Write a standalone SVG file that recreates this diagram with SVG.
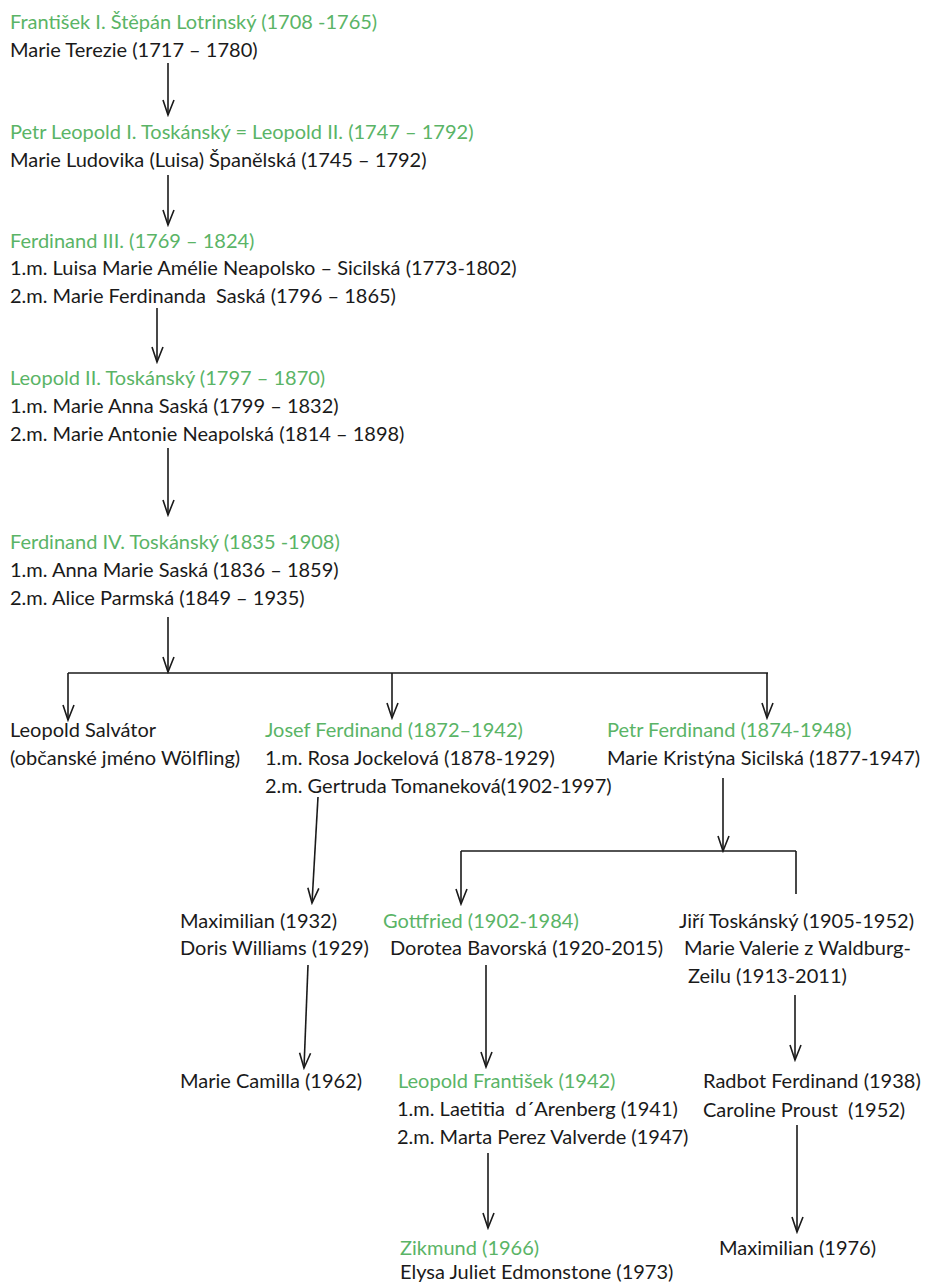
<svg xmlns="http://www.w3.org/2000/svg" width="925" height="1283" viewBox="0 0 925 1283">
<style>
text{font-family:Lato,"Open Sans","Liberation Sans",sans-serif;font-size:20px;fill:#1a1a1a}
.g{fill:#5ab466}
.c line{stroke:#1a1a1a;stroke-width:1.6;fill:none}
</style>
<defs>
<marker id="v" viewBox="-17 -8 19 16" markerWidth="19" markerHeight="16" refX="0" refY="0" markerUnits="userSpaceOnUse" orient="auto">
<path d="M-15,-6 L0,0 L-15,5" stroke="#1a1a1a" stroke-width="1.6" fill="none" stroke-linejoin="miter"/>
</marker>
</defs>
<rect width="925" height="1283" fill="#fff"/>
<g class="c" id="connectors">
<line x1="168" y1="63" x2="168" y2="115" marker-end="url(#v)"/>
<line x1="168" y1="175" x2="168" y2="225" marker-end="url(#v)"/>
<line x1="157" y1="308" x2="157" y2="362" marker-end="url(#v)"/>
<line x1="168" y1="448" x2="168" y2="515" marker-end="url(#v)"/>
<line x1="168" y1="617" x2="168" y2="672" marker-end="url(#v)"/>
<line x1="68" y1="673" x2="768" y2="673"/>
<line x1="68" y1="673" x2="68" y2="720" marker-end="url(#v)"/>
<line x1="392" y1="673" x2="392" y2="718" marker-end="url(#v)"/>
<line x1="767" y1="673" x2="767" y2="718" marker-end="url(#v)"/>
<line x1="318" y1="797" x2="312" y2="903" marker-end="url(#v)"/>
<line x1="723" y1="778" x2="723" y2="851" marker-end="url(#v)"/>
<line x1="461" y1="851" x2="796" y2="851"/>
<line x1="461" y1="851" x2="461" y2="904" marker-end="url(#v)"/>
<line x1="796" y1="851" x2="796" y2="894"/>
<line x1="308" y1="965" x2="304" y2="1068" marker-end="url(#v)"/>
<line x1="486" y1="965" x2="486" y2="1067" marker-end="url(#v)"/>
<line x1="795" y1="995" x2="795" y2="1060" marker-end="url(#v)"/>
<line x1="488" y1="1153" x2="488" y2="1228" marker-end="url(#v)"/>
<line x1="797" y1="1125" x2="797" y2="1232" marker-end="url(#v)"/>
</g>
<g id="n1"><text x="10" y="29" class="g">František I. Štěpán Lotrinský (1708 -1765)</text><text x="10" y="57">Marie Terezie (1717 – 1780)</text></g>
<g id="n2"><text x="10" y="139" class="g">Petr Leopold I. Toskánský = Leopold II. (1747 – 1792)</text><text x="10" y="167">Marie Ludovika (Luisa) Španělská (1745 – 1792)</text></g>
<g id="n3"><text x="10" y="248" class="g">Ferdinand III. (1769 – 1824)</text><text x="10" y="275">1.m. Luisa Marie Amélie Neapolsko – Sicilská (1773-1802)</text><text x="10" y="303" xml:space="preserve">2.m. Marie Ferdinanda  Saská (1796 – 1865)</text></g>
<g id="n4"><text x="10" y="385" class="g">Leopold II. Toskánský (1797 – 1870)</text><text x="10" y="413">1.m. Marie Anna Saská (1799 – 1832)</text><text x="10" y="441">2.m. Marie Antonie Neapolská (1814 – 1898)</text></g>
<g id="n5"><text x="10" y="549" class="g">Ferdinand IV. Toskánský (1835 -1908)</text><text x="10" y="577">1.m. Anna Marie Saská (1836 – 1859)</text><text x="10" y="605">2.m. Alice Parmská (1849 – 1935)</text></g>
<g id="n6"><text x="10" y="737">Leopold Salvátor</text><text x="10" y="765">(občanské jméno Wölfling)</text></g>
<g id="n7"><text x="265" y="737" class="g">Josef Ferdinand (1872–1942)</text><text x="265" y="765">1.m. Rosa Jockelová (1878-1929)</text><text x="265" y="793">2.m. Gertruda Tomaneková(1902-1997)</text></g>
<g id="n8"><text x="607" y="737" class="g">Petr Ferdinand (1874-1948)</text><text x="607" y="765">Marie Kristýna Sicilská (1877-1947)</text></g>
<g id="n9"><text x="180" y="928">Maximilian (1932)</text><text x="180" y="955">Doris Williams (1929)</text></g>
<g id="n10"><text x="383" y="928" class="g">Gottfried (1902-1984)</text><text x="390" y="955">Dorotea Bavorská (1920-2015)</text></g>
<g id="n11"><text x="679" y="928">Jiří Toskánský (1905-1952)</text><text x="684" y="955">Marie Valerie z Waldburg-</text><text x="688" y="983">Zeilu (1913-2011)</text></g>
<g id="n12"><text x="180" y="1088">Marie Camilla (1962)</text></g>
<g id="n13"><text x="398" y="1088" class="g">Leopold František (1942)</text><text x="397" y="1116" xml:space="preserve">1.m. Laetitia  d´Arenberg (1941)</text><text x="397" y="1144">2.m. Marta Perez Valverde (1947)</text></g>
<g id="n14"><text x="703" y="1088">Radbot Ferdinand (1938)</text><text x="703" y="1117" xml:space="preserve">Caroline Proust  (1952)</text></g>
<g id="n15"><text x="400" y="1255" class="g">Zikmund (1966)</text><text x="400" y="1279">Elysa Juliet Edmonstone (1973)</text></g>
<g id="n16"><text x="719" y="1255">Maximilian (1976)</text></g>
</svg>
